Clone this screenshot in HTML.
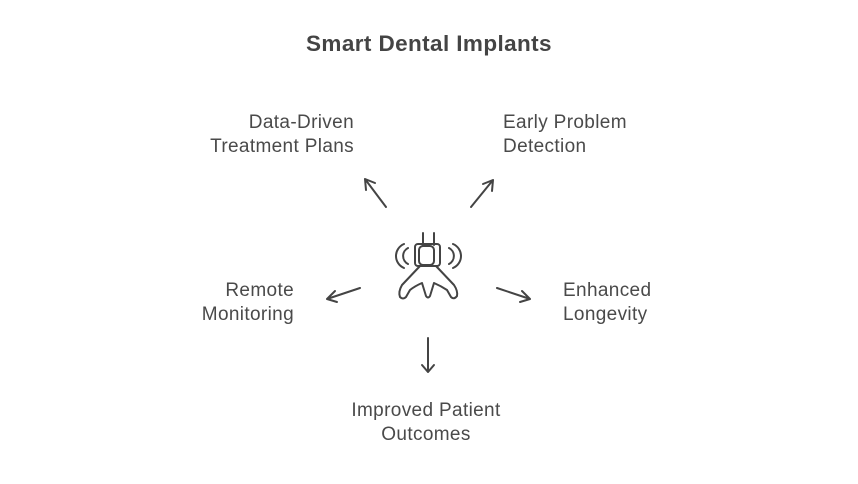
<!DOCTYPE html>
<html><head><style>
body{margin:0;background:#fff;width:858px;height:484px;position:relative;font-family:"Liberation Sans",sans-serif;color:#4a4a4a;overflow:hidden}
.t{position:absolute;font-size:19px;line-height:24px;letter-spacing:0.35px;white-space:nowrap}
.r{text-align:right}
.c{text-align:center}
</style></head><body>
<div class="t c" style="left:179px;width:500px;top:32px;font-size:22.5px;font-weight:bold;color:#444;letter-spacing:0.4px">Smart Dental Implants</div>
<div class="t r" style="left:104px;width:250px;top:111px">Data-Driven<br>Treatment Plans</div>
<div class="t" style="left:503px;top:111px">Early Problem<br>Detection</div>
<div class="t r" style="left:44px;width:250px;top:279px">Remote<br>Monitoring</div>
<div class="t" style="left:563px;top:279px">Enhanced<br>Longevity</div>
<div class="t c" style="left:276px;width:300px;top:399px">Improved Patient<br>Outcomes</div>
<svg width="858" height="484" style="position:absolute;left:0;top:0" fill="none" stroke="#444" stroke-width="2" stroke-linecap="round" stroke-linejoin="round">
<path d="M386 207 L365 179 M365 179 L366 190 M365 179 L375 183"/>
<path d="M471 207 L493 180 M493 180 L483 184 M493 180 L492 191"/>
<path d="M497 288 L530 299 M530 299 L522 291 M530 299 L520 302"/>
<path d="M428 338 L428 372 M428 372 L422 365 M428 372 L434 365"/>
<path d="M360 288 L327 299 M327 299 L337 302 M327 299 L335 291"/>
<path d="M423 233 V245 M434 233 V245"/>
<rect x="415" y="244" width="25" height="22" rx="3"/>
<rect x="419" y="246" width="15" height="19" rx="4"/>
<path d="M408 248 A9 9 0 0 0 408 264 M404 244 A13 13 0 0 0 404 268"/>
<path d="M449 248 A9 9 0 0 1 449 264 M453 244 A13 13 0 0 1 453 268"/>
<path d="M420 266 L402 285 Q398 292 400 297 Q403 300 406 297 L410 290 Q415 286 422 283 L426 296 Q428 299 430 296 L434 283 Q441 286 447 290 L451 297 Q454 300 457 296 Q458 291 454 285 L436 266"/>
</svg>
</body></html>
